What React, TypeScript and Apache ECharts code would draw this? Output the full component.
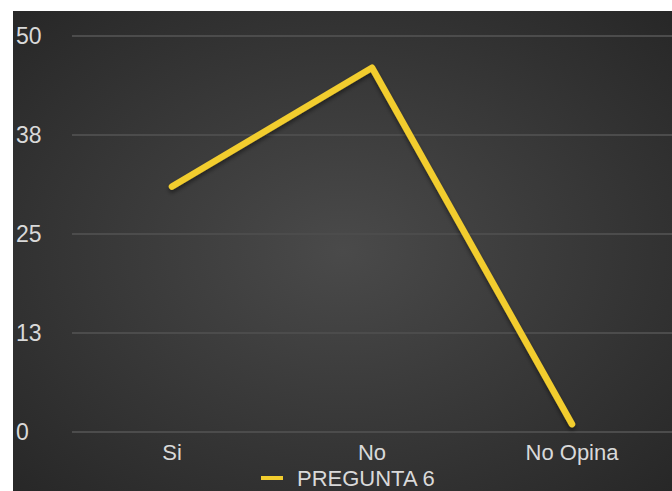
import React, { useEffect, useRef } from "react";
import * as echarts from "echarts";

const categories = ["Si", "No", "No Opina"];
const seriesName = "PREGUNTA 6";
const values = [31, 46, 1];
const yMin = 0;
const yMax = 50;
const yInterval = 12.5;

export default function App() {
  const ref = useRef<HTMLDivElement>(null);
  useEffect(() => {
    if (!ref.current) return;
    const chart = echarts.init(ref.current, undefined, { renderer: "svg" });
    const font = "'Liberation Sans', Arial, sans-serif";
    chart.setOption({
      animation: false,
      backgroundColor: {
        type: "radial",
        x: 0.5,
        y: 0.5,
        r: 0.75,
        colorStops: [
          { offset: 0, color: "#4a4a4a" },
          { offset: 1, color: "#252525" },
        ],
      },
      grid: { left: 56, width: 605, top: 25, bottom: 59 },
      legend: {
        data: [seriesName],
        top: 456,
        left: 248,
        padding: 0,
        icon: "rect",
        itemWidth: 22,
        itemHeight: 4,
        textStyle: { color: "#d9d9d9", fontSize: 22, lineHeight: 22, fontFamily: font, padding: [0, 0, 0, 9] },
      },
      xAxis: {
        type: "category",
        data: categories,
        boundaryGap: true,
        axisLine: { show: false },
        axisTick: { show: false },
        axisLabel: { color: "#d9d9d9", fontSize: 22, lineHeight: 22, fontFamily: font, margin: 9 },
      },
      yAxis: {
        type: "value",
        min: yMin,
        max: yMax,
        interval: yInterval,
        axisLine: { show: false },
        axisTick: { show: false },
        splitLine: { lineStyle: { color: "#4c4c4c", width: 2 } },
        axisLabel: {
          color: "#d9d9d9",
          fontSize: 23,
          fontFamily: font,
          align: "left",
          margin: 56,
          formatter: (v: number) => String(Math.round(v)),
        },
      },
      series: [
        {
          name: seriesName,
          type: "line",
          data: values,
          showSymbol: false,
          symbol: "none",
          color: "#f2cd2e",
          lineStyle: {
            color: "#f2cd2e",
            width: 6.5,
            cap: "round",
            join: "round",
            shadowColor: "rgba(0,0,0,0.45)",
            shadowBlur: 4,
            shadowOffsetY: 3,
          },
        },
      ],
    });
    return () => chart.dispose();
  }, []);
  return (
    <div
      ref={ref}
      style={{ position: "absolute", left: 13, top: 11, width: 659, height: 480 }}
    />
  );
}
